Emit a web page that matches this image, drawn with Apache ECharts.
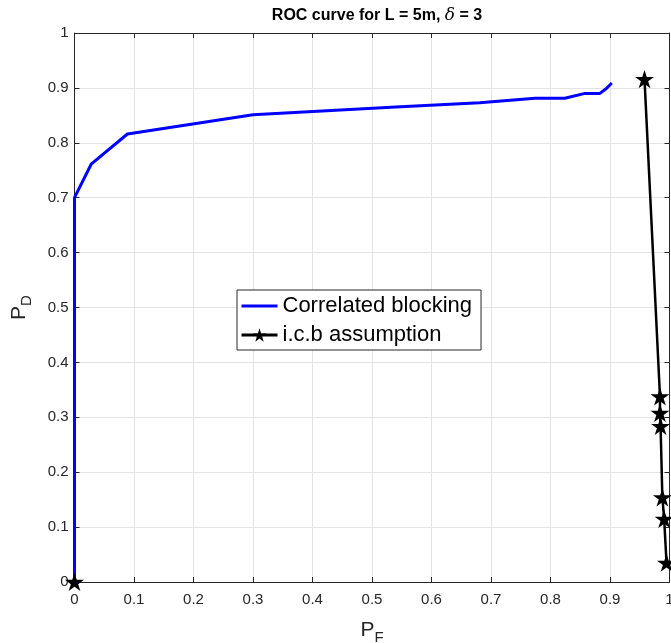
<!DOCTYPE html>
<html>
<head>
<meta charset="utf-8">
<script src="https://cdn.jsdelivr.net/npm/echarts@6/dist/echarts.min.js"></script>
<style>
  html, body { margin: 0; padding: 0; background: #fff; }
  #chart { width: 671px; height: 643px; }
</style>
</head>
<body>
<div id="chart"></div>
<script>
// values
const blockingPF = [0, 0, 0.028, 0.089, 0.30, 0.54, 0.681, 0.774, 0.824, 0.858, 0.883, 0.894, 0.903];
const blockingPD = [0, 0.70, 0.761, 0.816, 0.851, 0.865, 0.873, 0.881, 0.881, 0.890, 0.890, 0.899, 0.909];
const icbPF = [0.958, 0.984, 0.984, 0.985, 0.988, 0.991, 0.995];
const icbPD = [0.916, 0.338, 0.308, 0.284, 0.154, 0.115, 0.035];
const originPF = [0];
const originPD = [0];

const zip = (a, b) => a.map((v, i) => [v, b[i]]);
const star = "path://M0,-10L2.245,-3.09L9.51,-3.09L3.633,1.18L5.878,8.09L0,3.82L-5.878,8.09L-3.633,1.18L-9.51,-3.09L-2.245,-3.09Z";
const font = "Liberation Sans, Arial, Helvetica, sans-serif";
const lblColor = "#262626";

const myChart = echarts.init(document.getElementById("chart"));

const baseAxis = {
  type: "value",
  min: 0,
  max: 1,
  interval: 0.1,
  axisLine: { show: true, onZero: false, lineStyle: { color: lblColor, width: 1 } },
  axisTick: { show: true, inside: true, length: 5, lineStyle: { color: lblColor } },
  splitLine: { show: true, lineStyle: { color: "#e3e3e3", width: 1 } },
  axisLabel: {
    color: lblColor,
    fontSize: 15,
    fontFamily: font,
    formatter: (v) => String(Math.round(v * 10) / 10),
  },
};

const option = {
  animation: false,
  backgroundColor: "#fff",
  title: {
    text: "{b|ROC curve for L = 5m, }{d|δ}{b| = 3}",
    left: 372,
    textAlign: "center",
    top: 2,
    textStyle: {
      rich: {
        b: { fontSize: 16, fontWeight: "bold", fontFamily: font, color: "#000" },
        d: { fontSize: 17, fontStyle: "italic", fontWeight: "normal", fontFamily: "DejaVu Serif, serif", color: "#000" },
      },
    },
  },
  grid: { left: 74.5, right: 1.5, top: 33, bottom: 61, outerBoundsMode: "none", containLabel: false },
  legend: {
    orient: "vertical",
    left: 237,
    top: 290,
    padding: [5, 9, 4, 3],
    itemGap: 7,
    itemWidth: 36,
    itemHeight: 17,
    backgroundColor: "#fff",
    borderColor: "#262626",
    borderWidth: 1,
    borderRadius: 0,
    textStyle: { fontSize: 22, fontFamily: font, color: "#000" },
    data: [
      {
        name: "Correlated blocking",
        itemStyle: { color: "rgba(0,0,0,0)", borderWidth: 0 },
        lineStyle: { width: 3 },
      },
      { name: "i.c.b assumption", lineStyle: { width: 3 } },
    ],
  },
  xAxis: [
    Object.assign({}, baseAxis, {
      position: "bottom",
      axisLabel: Object.assign({}, baseAxis.axisLabel, { margin: 10 }),
      name: "{p|P}{s|F}",
      nameLocation: "middle",
      nameGap: 33,
      nameTextStyle: {
        rich: {
          p: { fontSize: 21, fontFamily: font, color: lblColor },
          s: { fontSize: 15, fontFamily: font, color: lblColor, padding: [15, 0, 0, 0] },
        },
      },
    }),
    Object.assign({}, baseAxis, {
      position: "top",
      axisLabel: { show: false },
      splitLine: { show: false },
    }),
  ],
  yAxis: [
    Object.assign({}, baseAxis, {
      position: "left",
      axisLabel: Object.assign({}, baseAxis.axisLabel, { margin: 6 }),
      name: "{p|P}{s|D}",
      nameLocation: "middle",
      nameGap: 40,
      nameTextStyle: {
        rich: {
          p: { fontSize: 21, fontFamily: font, color: lblColor },
          s: { fontSize: 15, fontFamily: font, color: lblColor, padding: [15, 0, 0, 0] },
        },
      },
    }),
    Object.assign({}, baseAxis, {
      position: "right",
      axisLabel: { show: false },
      splitLine: { show: false },
    }),
  ],
  series: [
    {
      name: "Correlated blocking",
      type: "line",
      data: zip(blockingPF, blockingPD),
      showSymbol: false,
      symbol: "none",
      lineStyle: { color: "#0000ff", width: 3 },
      itemStyle: { color: "#0000ff" },
      z: 3,
    },
    {
      name: "i.c.b assumption",
      type: "line",
      data: zip(icbPF, icbPD),
      symbol: star,
      symbolSize: 19,
      symbolKeepAspect: true,
      lineStyle: { color: "#000", width: 2.5 },
      itemStyle: { color: "#000" },
      z: 4,
    },
    {
      name: "i.c.b assumption",
      type: "line",
      data: zip(originPF, originPD),
      symbol: star,
      symbolSize: 19,
      symbolKeepAspect: true,
      lineStyle: { color: "#000", width: 2.5 },
      itemStyle: { color: "#000" },
      z: 5,
    },
  ],
};

myChart.setOption(option);
window.onresize = function () {
  myChart.resize();
};
</script>
</body>
</html>
